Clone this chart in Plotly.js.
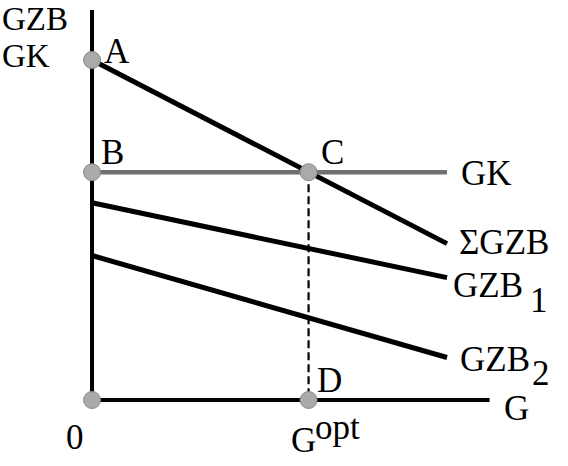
<!DOCTYPE html>
<html>
<head>
<meta charset="utf-8">
<script src="https://cdn.plot.ly/plotly-3.0.1.min.js"></script>
<style>html,body{margin:0;padding:0;background:#fff;}#chart{width:568px;height:466px;}</style>
</head>
<body>
<div id="chart"></div>
<script>
// Data (G on x, GZB/GK on y)
const lineX = [0, 10];
const sumGZB = [10, 4.6];
const GZB1 = [5.8, 3.6];
const GZB2 = [4.25, 1.25];
const GK = [6.7, 6.7];
const Gopt = 6.1;
const axisXEnd = 11.2;
const axisYEnd = 11.47;
const pointNames = ["0", "A", "B", "C", "D"];
const pointX = [0, 0, 0, Gopt, Gopt];
const pointY = [0, 10, 6.7, 6.7, 0];
const yAxisTitle = ["GZB", "GK"];

const FONT = "Liberation Serif, Times New Roman, serif";
const FS = 35;

const traces = [
  // axes
  {x: [0, 0], y: [0, axisYEnd], mode: "lines", line: {color: "#000", width: 4}},
  {x: [0, axisXEnd], y: [0, 0], mode: "lines", line: {color: "#000", width: 4}},
  // dashed C-D
  {x: [Gopt, Gopt], y: [pointY[3], 0], mode: "lines", line: {color: "#000", width: 2.2, dash: "8px,4px"}},
  // curves
  {x: lineX, y: GZB2, mode: "lines", line: {color: "#000", width: 5}},
  {x: lineX, y: GZB1, mode: "lines", line: {color: "#000", width: 5}},
  {x: lineX, y: sumGZB, mode: "lines", line: {color: "#000", width: 5}},
  {x: lineX, y: GK, mode: "lines", line: {color: "#707070", width: 4.5}},
  // points
  {x: pointX, y: pointY, text: pointNames, mode: "markers",
   marker: {size: 17, color: "#aaaaaa", line: {color: "#8a8a8a", width: 1}}}
];

function ann(text, x, y, xa, ya) {
  return {text: text, x: x, y: y, xref: "x", yref: "y", showarrow: false,
          xanchor: xa || "center", yanchor: ya || "middle", borderpad: 0,
          font: {family: FONT, size: FS, color: "#000"}};
}

function paperAnn(text, x, y) {
  const a = ann(text, x, y, "left", "top");
  a.xref = "paper";
  a.yref = "paper";
  a.font = {family: FONT, size: 33, color: "#000"};
  return a;
}

const annotations = [
  paperAnn(yAxisTitle[0], 0.001, 1),
  paperAnn(yAxisTitle[1], 0.001, 0.9206),
  ann("A", 0.70, 10.24),
  ann("B", 0.59, 7.27),
  ann("C", 6.76, 7.29),
  ann("D", 6.70, 0.56),
  ann("0", -0.48, -1.09),
  ann("G", 5.96, -1.18),
  ann("opt", 6.92, -0.82),
  ann("G", 11.97, -0.24),
  ann("GK", 11.1, 6.65),
  ann("\u03A3GZB", 11.6, 4.62),
  ann("GZB", 11.16, 3.38),
  ann("1", 12.58, 2.94),
  ann("GZB", 11.35, 1.18),
  ann("2", 12.64, 0.79)
];

const layout = {
  width: 568, height: 466,
  margin: {l: 0, r: 0, t: 0, b: 0},
  paper_bgcolor: "#fff", plot_bgcolor: "#fff",
  showlegend: false,
  xaxis: {range: [-2.592, 13.408], visible: false, fixedrange: true},
  yaxis: {range: [-1.941, 11.765], visible: false, fixedrange: true},
  annotations: annotations
};

Plotly.newPlot("chart", traces, layout, {staticPlot: true, displayModeBar: false});
</script>
</body>
</html>
